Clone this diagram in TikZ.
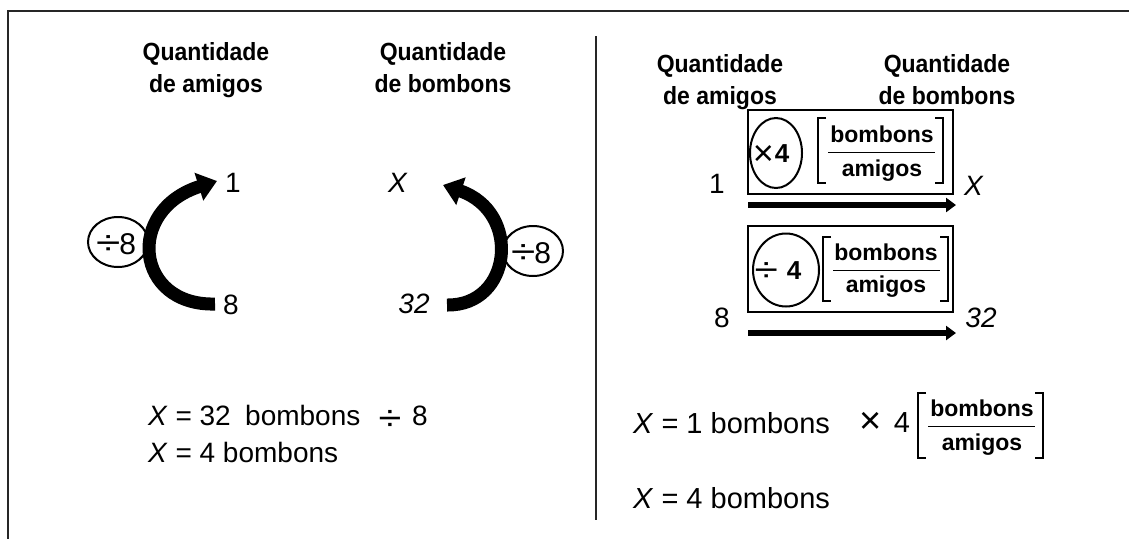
\documentclass[tikz,border=0pt]{standalone}
\usepackage{fontspec}
\usepackage{graphicx}
\setmainfont{Liberation Sans}
\usetikzlibrary{arrows.meta,shapes.geometric}
\begin{document}
\begin{tikzpicture}[x=1pt,y=-1pt,
  txt/.style={inner sep=0pt, font=\fontsize{28}{32}\selectfont},
  head/.style={inner sep=0pt, anchor=base, font=\fontsize{23}{32}\selectfont\bfseries},
  eq/.style={inner sep=0pt, anchor=base west, font=\fontsize{28}{34}\selectfont},
  circ/.style={draw, line width=2pt, ellipse, inner sep=0pt},
  ctext/.style={inner sep=0pt, font=\fontsize{30}{34}\selectfont},
  bigarrow/.style={line width=13pt, -{Triangle[length=19pt,width=28pt]}},
  flatarrow/.style={line width=6pt, -{Triangle[length=10pt,width=14pt]}},
  unitbox/.style={draw, line width=2.5pt, inner sep=0pt},
  frac/.style={inner sep=0pt, font=\fontsize{23}{28}\selectfont\bfseries},
  brk/.style={line width=1.5pt},
  fline/.style={line width=1pt},
  frame/.style={line width=2.5pt, draw=black!85},
]
\useasboundingbox (0,0) rectangle (1129,539);
% frame and divider
\coordinate (f1) at (1129,11);
\coordinate (f2) at (8,11);
\coordinate (f3) at (8,539);
\draw[frame] (f1) -- (f2) -- (f3);
\coordinate (d1) at (596,36);
\coordinate (d2) at (596,520);
\draw[line width=2pt, black!85] (d1) -- (d2);

% ---------- left panel ----------
\node[head] (hA1) at (206,60) {\scalebox{1}[1.08]{Quantidade}};
\node[head] (hA2) at (206,92) {\scalebox{1}[1.08]{de amigos}};
\node[head] (hB1) at (443,60) {\scalebox{1}[1.08]{Quantidade}};
\node[head] (hB2) at (443,92) {\scalebox{1}[1.08]{de bombons}};

\node[txt] (one) at (233,183) {1};
\node[txt] (eight) at (231,305) {8};
\node[txt] (xl) at (398,183) {\textit{X}};
\node[txt] (tt) at (414,304) {\textit{32}};

\coordinate (la0) at (215,304);
\coordinate (la1) at (217,181);
\draw[bigarrow] (la0) .. controls (135,306) and (125,210) .. (la1);
\coordinate (ra0) at (447,305);
\coordinate (ra1) at (443,185);
\draw[bigarrow] (ra0) .. controls (512,306) and (522,212) .. (ra1);

\node[circ, minimum width=60pt, minimum height=50pt] (cl) at (118,242) {};
\node[ctext] (clt) at (116,244) {\scalebox{1.3}[1]{\fontsize{34}{34}\selectfont ÷}\kern-1pt 8};
\node[circ, minimum width=60pt, minimum height=50pt] (cr) at (533,251) {};
\node[ctext] (crt) at (531,253) {\scalebox{1.3}[1]{\fontsize{34}{34}\selectfont ÷}\kern-1pt 8};

\node[eq] (e1a) at (148,425) {\textit{X} = 32};
\node[eq] (e1b) at (245,425) {bombons};
\node[inner sep=0pt, font=\fontsize{36}{36}\selectfont] (dv) at (390,420) {\scalebox{1.15}[1]{÷}};
\node[eq] (e1c) at (412,425) {8};
\node[eq] (e2) at (148,462) {\textit{X} = 4 bombons};

% ---------- right panel ----------
\node[head] (hC1) at (720,72) {\scalebox{1}[1.08]{Quantidade}};
\node[head] (hC2) at (720,104) {\scalebox{1}[1.08]{de amigos}};
\node[head] (hD1) at (947,72) {\scalebox{1}[1.08]{Quantidade}};
\node[head] (hD2) at (947,104) {\scalebox{1}[1.08]{de bombons}};

% box 1
\node[unitbox, minimum width=205pt, minimum height=84pt] (b1) at (850.5,152) {};
\node[circ, minimum width=52pt, minimum height=70pt] (c1) at (776,153) {};
\node[ctext] (c1t) at (771,155) {\raisebox{-3pt}{\fontsize{36}{36}\selectfont ×}\kern1pt{\fontsize{26}{30}\selectfont\bfseries 4}};
\node[frac] (n1) at (882,134) {bombons};
\node[frac] (m1) at (882,171) {amigos};
\draw[fline] (828,152) -- (935,152);
\draw[brk] (826,118) -- (818,118) -- (818,183) -- (826,183);
\draw[brk] (935,118) -- (943,118) -- (943,183) -- (935,183);
\node[txt] (r1) at (717,184) {1};
\node[txt] (rx) at (974,186) {\textit{X}};
\coordinate (a1s) at (748,205);
\coordinate (a1e) at (956,205);
\draw[flatarrow] (a1s) -- (a1e);

% box 2
\node[unitbox, minimum width=205pt, minimum height=86pt] (b2) at (850.5,269) {};
\node[circ, minimum width=66pt, minimum height=73pt] (c2) at (786,270) {};
\node[ctext] (c2t) at (778,272) {\raisebox{-2pt}{\scalebox{1.25}[1]{\fontsize{34}{34}\selectfont ÷}}\kern9pt{\fontsize{26}{30}\selectfont\bfseries 4}};
\node[frac] (n2) at (886,252) {bombons};
\node[frac] (m2) at (886,287) {amigos};
\draw[fline] (833,270) -- (940,270);
\draw[brk] (831,237) -- (823,237) -- (823,301) -- (831,301);
\draw[brk] (940,237) -- (948,237) -- (948,301) -- (940,301);
\node[txt] (r8) at (722,318) {8};
\node[txt] (r32) at (981,318) {\textit{32}};
\coordinate (a2s) at (748,333);
\coordinate (a2e) at (956,333);
\draw[flatarrow] (a2s) -- (a2e);

% equations right
\node[eq, font=\fontsize{29}{34}\selectfont] (e3) at (633,433) {\textit{X} = 1 bombons};
\node[inner sep=0pt, font=\fontsize{38}{38}\selectfont] (tm) at (871,423) {×};
\node[inner sep=0pt, font=\fontsize{29}{34}\selectfont] (f4) at (902,423) {4};
\node[frac] (n3) at (982,408) {bombons};
\node[frac] (m3) at (982,445) {amigos};
\draw[fline] (928,426) -- (1035,426);
\draw[brk] (926,393) -- (918,393) -- (918,458) -- (926,458);
\draw[brk] (1035,393) -- (1043,393) -- (1043,458) -- (1035,458);
\node[eq, font=\fontsize{29}{34}\selectfont] (e4) at (633,508) {\textit{X} = 4 bombons};
\end{tikzpicture}
\end{document}
